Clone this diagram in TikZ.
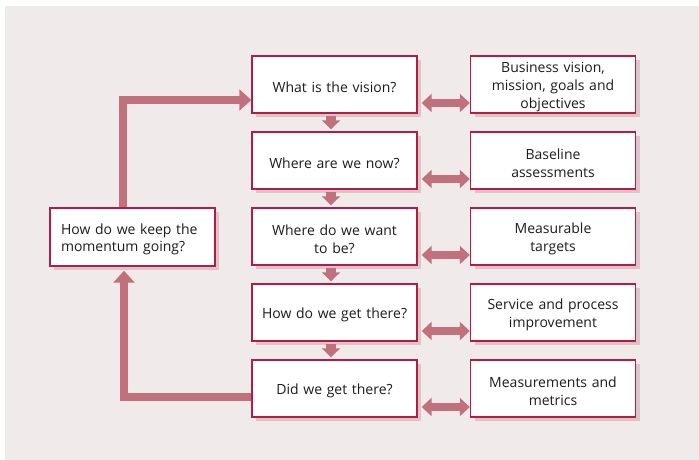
\documentclass[tikz,border=0pt]{standalone}
\usepackage{fontspec}
\setmainfont{Open Sans}
\usetikzlibrary{arrows.meta,shadows}
\definecolor{bgcol}{RGB}{240,234,235}
\definecolor{bordercol}{RGB}{178,28,72}
\definecolor{arrowcol}{RGB}{192,113,124}
\definecolor{shadowcol}{RGB}{221,196,201}
\definecolor{textcol}{RGB}{30,27,28}
\tikzset{
  box/.style={draw=bordercol, line width=1.4pt, fill=white, minimum width=165pt, minimum height=57pt, inner sep=0pt,
    text width=152pt, align=center, font=\fontsize{14}{17.8}\selectfont, text=textcol,
    execute at begin node={\rule{0pt}{15.5pt}},
    general shadow={shadow xshift=4pt, shadow yshift=-4pt, fill=shadowcol}},
  downarr/.style={draw=arrowcol, line width=10pt, -{Triangle[width=18pt,length=9pt]}, shorten <=2pt, shorten >=2pt},
  dblarr/.style={draw=arrowcol, line width=8pt, {Triangle[width=18pt,length=10pt]}-{Triangle[width=18pt,length=10pt]}},
  looparr/.style={draw=arrowcol, line width=8pt, -{Triangle[width=21pt,length=12pt]}}
}
\begin{document}
\begin{tikzpicture}[x=1pt,y=-1pt]
\useasboundingbox (0,0) rectangle (699,460);
\fill[bgcol] (5,6) rectangle (699,460);
\node[box] (b1) at (334.5,84.5) {What is the vision?};
\node[box] (b2) at (334.5,160.5) {Where are we now?};
\node[box] (b3) at (334.5,236.5) {Where do we want\\to be?};
\node[box] (b4) at (334.5,312.5) {How do we get there?};
\node[box] (b5) at (334.5,388.5) {Did we get there?};
\node[box] (r1) at (553,84.5) {Business vision,\\mission, goals and\\objectives};
\node[box] (r2) at (553,160.5) {Baseline\\assessments};
\node[box] (r3) at (553,236.5) {Measurable\\targets};
\node[box] (r4) at (553,312.5) {Service and process\\improvement};
\node[box] (r5) at (553,388.5) {Measurements and\\metrics};
\node[box, align=left, text width=143pt, minimum height=58pt] (lk) at (132.5,237) {How do we keep the\\momentum going?};
\foreach \a/\b in {b1/b2,b2/b3,b3/b4,b4/b5}
  \draw[downarr] ([xshift=-3.5pt]\a.south) -- ([xshift=-3.5pt]\b.north);
\foreach \i in {1,...,5}
  \draw[dblarr] ([yshift=-18.5pt, xshift=4pt]b\i.east) -- ([yshift=-18.5pt]r\i.west);
\draw[looparr] ([xshift=-10pt]lk.north) |- ([yshift=-15.5pt]b1.west);
\draw[looparr, shorten >=4pt] ([yshift=-8.5pt]b5.west) -| ([xshift=-8.5pt]lk.south);
\end{tikzpicture}
\end{document}
